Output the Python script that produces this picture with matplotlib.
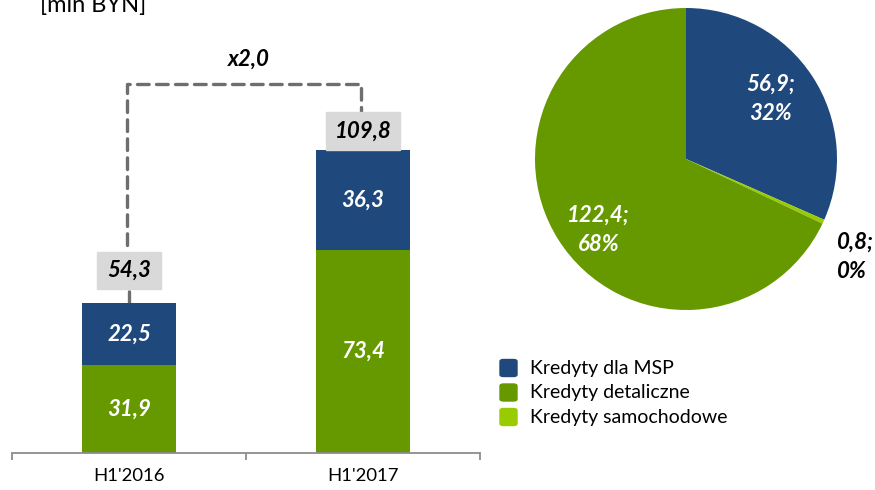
import matplotlib
matplotlib.use('Agg')
import matplotlib.pyplot as plt
from matplotlib.patches import FancyBboxPatch

plt.rcParams['font.family'] = ['Lato', 'DejaVu Sans']

# dane
periods = ["H1'2016", "H1'2017"]
retail = [31.9, 73.4]
sme = [22.5, 36.3]
totals = [54.3, 109.8]
growth_label = 'x2,0'

pie_labels = ['Kredyty dla MSP', 'Kredyty samochodowe', 'Kredyty detaliczne']
pie_values = [56.9, 0.8, 122.4]

BLUE = '#1F497D'
GREEN = '#669900'
LIGHT = '#99CC00'


def fmt(v):
    return f'{v:.1f}'.replace('.', ',')


fig = plt.figure(figsize=(8.75, 4.9), dpi=100)

# --- wykres slupkowy ---
ax = fig.add_axes([12 / 875, 37 / 490, 468 / 875, 453 / 490])
x = [0, 1]
w = 0.4
ax.bar(x, retail, w, color=GREEN, zorder=2)
ax.bar(x, sme, w, bottom=retail, color=BLUE, zorder=2)
ax.set_xlim(-0.5, 1.5)
ax.set_ylim(0, 164)

lbl = dict(fontsize=16, fontweight='bold', fontstyle='italic')
for i in x:
    ax.text(i, retail[i] / 2, fmt(retail[i]), ha='center', va='center',
            color='white', **lbl)
    ax.text(i, retail[i] + sme[i] / 2, fmt(sme[i]), ha='center', va='center',
            color='white', **lbl)

# sumy w szarych ramkach
box_y = [66, 116.6]
box_h = 13.6
box_w = [0.27, 0.32]
line_top = 133.7
dash = dict(color='#6E6E6E', lw=2.4, ls=(0, (3.5, 2.2)), dash_capstyle='round',
            solid_capstyle='round', zorder=1)
for i in x:
    ax.add_patch(plt.Rectangle((i - box_w[i] / 2, box_y[i] - box_h / 2), box_w[i], box_h,
                               color='#D9D9D9', zorder=3))
    ax.text(i, box_y[i], fmt(totals[i]), ha='center', va='center', color='black',
            zorder=4, **lbl)
    ax.plot([i, i], [totals[i], box_y[i] - box_h / 2], **dash)

ax.plot([-0.01, -0.01, 0.99, 0.99],
        [box_y[0] + box_h / 2 + 2.5, line_top, line_top, box_y[1] + box_h / 2],
        **dash)
ax.text(0.51, 142.5, growth_label, ha='center', va='center', **lbl)

for s in ['top', 'right', 'left']:
    ax.spines[s].set_visible(False)
ax.spines['bottom'].set_color('#8C8C8C')
ax.spines['bottom'].set_linewidth(1.3)
ax.set_yticks([])
ax.set_xticks([-0.5, 0.5, 1.5], minor=False)
ax.set_xticklabels([])
ax.tick_params(axis='x', length=5, color='#8C8C8C', width=1.3)
for i in x:
    ax.text(i, -8.5, periods[i], ha='center', va='center', fontsize=13.3)

fig.text(40 / 875, 1 - 16 / 490, '[mln BYN]', ha='left', va='bottom', fontsize=17)

# --- wykres kolowy ---
pax = fig.add_axes([535 / 875, 180 / 490, 302 / 875, 302 / 490])
pax.pie(pie_values, colors=[BLUE, LIGHT, GREEN], startangle=90, counterclock=False,
        radius=1.0, wedgeprops=dict(linewidth=0))
pax.set_xlim(-1, 1)
pax.set_ylim(-1, 1)
pax.set_aspect('equal')
pax.axis('off')

total = sum(pie_values)
pos = [(0.56, 0.4, 'white', 'center'), (1.0, -0.65, 'black', 'left'),
       (-0.58, -0.47, 'white', 'center')]
for v, (px, py, c, ha) in zip(pie_values, pos):
    pax.text(px, py, f'{fmt(v)};\n{v / total * 100:.0f}%', ha=ha, va='center',
             color=c, linespacing=1.5, clip_on=False, **lbl)

# legenda
leg_order = [0, 2, 1]
leg_colors = [BLUE, LIGHT, GREEN]
for k, idx in enumerate(leg_order):
    yy = 1 - (368 + k * 24.5) / 490
    fig.patches.append(FancyBboxPatch((500 / 875, yy - 8.5 / 490), 17 / 875, 17 / 490,
                                      boxstyle='round,pad=0,rounding_size=0.004',
                                      transform=fig.transFigure,
                                      color=leg_colors[idx], figure=fig))
    fig.text(530 / 875, yy, pie_labels[idx], ha='left', va='center', fontsize=14)

fig.savefig('out.png', dpi=100)
